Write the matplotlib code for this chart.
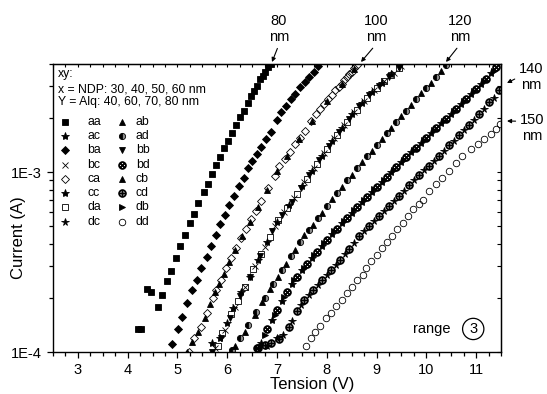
import numpy as np
import matplotlib
matplotlib.use('Agg')
import matplotlib.pyplot as plt
from matplotlib.ticker import MultipleLocator, LogLocator, FixedLocator, NullFormatter

plt.rcParams['font.family'] = ['Liberation Sans', 'DejaVu Sans']
plt.rcParams['mathtext.fontset'] = 'dejavusans'

# Tension (V) et courant (mA) pour chaque echantillon
v_aa = [4.20, 4.27, 4.39, 4.47, 4.60, 4.68, 4.79, 4.87, 4.97, 5.06, 5.15, 5.25, 5.34, 5.42, 5.53, 5.61, 5.69,
        5.78, 5.86, 5.94, 6.02, 6.10, 6.18, 6.26, 6.34, 6.41, 6.48, 6.54, 6.60, 6.66, 6.71, 6.76, 6.82, 6.87]
i_aa = [0.135, 0.135, 0.224, 0.216, 0.177, 0.207, 0.247, 0.284, 0.334, 0.387, 0.449, 0.519, 0.582, 0.671, 0.776,
        0.865, 0.975, 1.10, 1.22, 1.36, 1.50, 1.65, 1.84, 2.02, 2.20, 2.42, 2.67, 2.82, 3.03, 3.28, 3.45, 3.60,
        3.85, 4.00]

v_ba = [4.89, 5.01, 5.10, 5.20, 5.29, 5.39, 5.48, 5.59, 5.67, 5.78, 5.86, 5.96, 6.04, 6.14, 6.23, 6.33, 6.41,
        6.50, 6.59, 6.68, 6.77, 6.87, 6.99, 7.09, 7.19, 7.29, 7.37, 7.46, 7.56, 7.65, 7.74, 7.83]
i_ba = [0.111, 0.134, 0.157, 0.187, 0.220, 0.252, 0.294, 0.338, 0.391, 0.447, 0.513, 0.577, 0.655, 0.738, 0.838,
        0.933, 1.05, 1.16, 1.26, 1.38, 1.53, 1.68, 1.94, 2.15, 2.34, 2.56, 2.74, 2.97, 3.17, 3.38, 3.61, 3.89]

v_ab = [5.19, 5.30, 5.42, 5.55, 5.66, 5.76, 5.84, 5.94, 6.04, 6.16, 6.30, 6.45, 6.62, 6.80, 7.00, 7.20, 7.45,
        7.70, 8.00, 8.30, 8.55]
i_ab = [0.100, 0.113, 0.130, 0.155, 0.185, 0.215, 0.240, 0.270, 0.315, 0.370, 0.440, 0.530, 0.640, 0.800, 1.02,
        1.23, 1.54, 1.93, 2.50, 3.10, 3.75]

v_ca = [5.23, 5.34, 5.47, 5.59, 5.71, 5.78, 5.88, 5.98, 6.08, 6.18, 6.28, 6.38, 6.48, 6.58, 6.68, 6.82, 6.95,
        7.05, 7.16, 7.26, 7.36, 7.46, 7.56, 7.69, 7.78, 7.86, 7.95, 8.03, 8.10, 8.17, 8.24, 8.30, 8.35, 8.40,
        8.45, 8.50, 8.55, 8.60]
i_ca = [0.100, 0.119, 0.138, 0.164, 0.200, 0.222, 0.252, 0.293, 0.334, 0.380, 0.432, 0.485, 0.546, 0.610, 0.690,
        0.820, 0.950, 1.08, 1.18, 1.29, 1.43, 1.56, 1.70, 1.92, 2.10, 2.25, 2.40, 2.56, 2.70, 2.85, 2.98, 3.10,
        3.24, 3.38, 3.50, 3.60, 3.78, 3.93]

v_da = [5.81, 5.90, 6.08, 6.22, 6.36, 6.52, 6.68, 6.85, 7.02, 7.20, 7.40, 7.60, 7.80, 8.00, 8.20, 8.40, 8.60,
        8.80, 9.00, 9.15, 9.30, 9.45]
i_da = [0.108, 0.128, 0.162, 0.193, 0.230, 0.288, 0.350, 0.435, 0.540, 0.630, 0.760, 0.920, 1.11, 1.34, 1.61,
        1.90, 2.22, 2.59, 2.95, 3.20, 3.47, 3.78]

v_bc = [5.75, 5.95, 6.15, 6.35, 6.55, 6.75, 6.95, 7.15, 7.35, 7.55, 7.75, 7.95, 8.15, 8.35, 8.55, 8.75, 8.95,
        9.15, 9.35, 9.50]
i_bc = [0.105, 0.132, 0.178, 0.230, 0.300, 0.385, 0.500, 0.600, 0.720, 0.880, 1.06, 1.28, 1.55, 1.82, 2.16,
        2.50, 2.87, 3.20, 3.58, 3.90]

v_ac = [5.69, 5.85, 6.00, 6.12, 6.28, 6.45, 6.62, 6.80, 7.00, 7.25, 7.50, 7.70, 7.90, 8.10, 8.30, 8.50, 8.70,
        8.90, 9.10, 9.30]
i_ac = [0.112, 0.120, 0.145, 0.175, 0.215, 0.262, 0.325, 0.410, 0.530, 0.660, 0.840, 1.01, 1.23, 1.49, 1.77,
        2.10, 2.42, 2.80, 3.15, 3.50]

v_bb = [5.69, 5.88, 6.05, 6.25, 6.45, 6.65, 6.90, 7.10, 7.30, 7.48, 7.65, 7.85, 8.05, 8.25, 8.45, 8.65, 8.85,
        9.05, 9.25, 9.45]
i_bb = [0.100, 0.120, 0.155, 0.205, 0.262, 0.340, 0.470, 0.580, 0.685, 0.820, 0.970, 1.17, 1.40, 1.68, 1.97,
        2.33, 2.70, 3.02, 3.38, 3.78]

v_ad = [6.10, 6.25, 6.42, 6.58, 6.75, 6.92, 7.10, 7.28, 7.46, 7.64, 7.82, 8.00, 8.20, 8.40, 8.60, 8.80, 9.00,
        9.20, 9.40, 9.60, 9.80, 10.00, 10.20, 10.40]
i_ad = [0.102, 0.120, 0.142, 0.167, 0.200, 0.238, 0.285, 0.340, 0.408, 0.480, 0.555, 0.650, 0.770, 0.900, 1.05,
        1.23, 1.42, 1.65, 1.91, 2.20, 2.55, 2.95, 3.38, 3.95]

v_cb = [6.15, 6.35, 6.55, 6.70, 6.85, 7.02, 7.18, 7.36, 7.55, 7.72, 7.90, 8.10, 8.30, 8.50, 8.70, 8.90, 9.10,
        9.30, 9.50, 9.70, 9.90, 10.10, 10.30]
i_cb = [0.108, 0.130, 0.160, 0.190, 0.225, 0.262, 0.310, 0.370, 0.445, 0.510, 0.595, 0.710, 0.830, 0.970, 1.14,
        1.32, 1.53, 1.77, 2.05, 2.37, 2.75, 3.15, 3.65]

v_bd = [6.60, 6.80, 7.00, 7.20, 7.40, 7.60, 7.80, 8.00, 8.20, 8.40, 8.60, 8.80, 9.00, 9.20, 9.40, 9.60, 9.80,
        10.00, 10.20, 10.40, 10.60, 10.80, 11.00, 11.20, 11.40]
i_bd = [0.105, 0.135, 0.172, 0.215, 0.262, 0.308, 0.360, 0.420, 0.485, 0.555, 0.640, 0.730, 0.830, 0.940, 1.07,
        1.21, 1.37, 1.56, 1.76, 1.99, 2.25, 2.55, 2.90, 3.30, 3.85]

v_cc = [6.68, 6.90, 7.10, 7.30, 7.50, 7.70, 7.90, 8.10, 8.30, 8.50, 8.70, 8.90, 9.10, 9.30, 9.50, 9.70, 9.90,
        10.10, 10.30, 10.50, 10.70, 10.90, 11.10, 11.30]
i_cc = [0.112, 0.150, 0.192, 0.240, 0.285, 0.332, 0.390, 0.452, 0.520, 0.595, 0.685, 0.780, 0.885, 1.00, 1.14,
        1.29, 1.46, 1.66, 1.87, 2.12, 2.40, 2.72, 3.10, 3.55]

v_db = [6.75, 6.95, 7.15, 7.35, 7.55, 7.75, 7.95, 8.15, 8.35, 8.55, 8.75, 8.95, 9.15, 9.35, 9.55, 9.75, 9.95,
        10.15, 10.35, 10.55, 10.75, 10.95, 11.15, 11.35]
i_db = [0.125, 0.160, 0.202, 0.252, 0.295, 0.345, 0.405, 0.470, 0.535, 0.615, 0.705, 0.805, 0.910, 1.03, 1.17,
        1.33, 1.51, 1.71, 1.93, 2.19, 2.48, 2.82, 3.20, 3.68]

v_cd = [6.62, 6.75, 6.88, 7.05, 7.24, 7.40, 7.55, 7.72, 7.90, 8.08, 8.26, 8.45, 8.65, 8.85, 9.05, 9.25, 9.45,
        9.65, 9.85, 10.05, 10.25, 10.45, 10.65, 10.85, 11.05, 11.25, 11.45]
i_cd = [0.105, 0.110, 0.112, 0.118, 0.138, 0.168, 0.195, 0.220, 0.250, 0.285, 0.325, 0.375, 0.440, 0.500, 0.570,
        0.650, 0.740, 0.845, 0.960, 1.09, 1.23, 1.41, 1.61, 1.84, 2.10, 2.45, 2.88]

v_dc = [6.80, 7.00, 7.12, 7.30, 7.48, 7.65, 7.82, 8.00, 8.18, 8.36, 8.55, 8.75, 8.95, 9.15, 9.35, 9.55, 9.75,
        9.95, 10.15, 10.35, 10.55, 10.75, 10.95, 11.15, 11.35]
i_dc = [0.108, 0.120, 0.125, 0.148, 0.182, 0.208, 0.235, 0.268, 0.305, 0.350, 0.405, 0.470, 0.535, 0.610, 0.695,
        0.790, 0.900, 1.03, 1.16, 1.32, 1.50, 1.72, 1.96, 2.24, 2.60]

v_dd = [7.59, 7.68, 7.77, 7.87, 7.98, 8.08, 8.19, 8.30, 8.40, 8.51, 8.61, 8.72, 8.79, 8.89, 9.00, 9.11, 9.21,
        9.32, 9.42, 9.53, 9.63, 9.74, 9.85, 9.93, 10.05, 10.19, 10.32, 10.45, 10.59, 10.72, 10.89, 11.03, 11.16,
        11.30, 11.40, 11.47]
i_dd = [0.108, 0.119, 0.129, 0.140, 0.154, 0.164, 0.181, 0.195, 0.214, 0.230, 0.252, 0.269, 0.294, 0.320, 0.348,
        0.380, 0.408, 0.441, 0.481, 0.524, 0.571, 0.621, 0.663, 0.700, 0.787, 0.857, 0.933, 1.02, 1.13, 1.23,
        1.34, 1.43, 1.53, 1.63, 1.74, 1.85]

data = {'aa': (v_aa, i_aa), 'ab': (v_ab, i_ab), 'ac': (v_ac, i_ac), 'ad': (v_ad, i_ad),
        'ba': (v_ba, i_ba), 'bb': (v_bb, i_bb), 'bc': (v_bc, i_bc), 'bd': (v_bd, i_bd),
        'ca': (v_ca, i_ca), 'cb': (v_cb, i_cb), 'cc': (v_cc, i_cc), 'cd': (v_cd, i_cd),
        'da': (v_da, i_da), 'db': (v_db, i_db), 'dc': (v_dc, i_dc), 'dd': (v_dd, i_dd)}

# styles des marqueurs
style = {
    'aa': dict(marker='s', ms=4.7, mfc='k'),
    'ab': dict(marker='^', ms=4.3, mfc='k'),
    'ac': dict(marker='*', ms=6, mfc='k'),
    'ad': dict(marker='o', ms=4.5, mfc='k', fillstyle='left', markerfacecoloralt='0.55'),
    'ba': dict(marker='D', ms=3.7, mfc='k'),
    'bb': dict(marker='v', ms=4.3, mfc='k'),
    'bc': dict(marker='x', ms=4.5),
    'bd': dict(marker='$\\otimes$', ms=5.5),
    'ca': dict(marker='D', ms=3.7, mfc='none'),
    'cb': dict(marker='^', ms=4.3, mfc='k'),
    'cc': dict(marker='*', ms=6, mfc='k'),
    'cd': dict(marker='$\\oplus$', ms=5.5),
    'da': dict(marker='s', ms=4.5, mfc='none'),
    'db': dict(marker='>', ms=4.3, mfc='k'),
    'dc': dict(marker='*', ms=5.5, mfc='k'),
    'dd': dict(marker='o', ms=4.7, mfc='none'),
}

fig = plt.figure(figsize=(5.47, 3.94), dpi=100)
ax = fig.add_axes([53 / 547, 42 / 394, 448 / 547, 288 / 394])

for name, (v, i) in data.items():
    ax.plot(v, np.array(i) * 1e-3, ls='none', color='k', mec='k', mew=0.6, **style[name])

ax.set_yscale('log')
ax.set_xlim(2.5, 11.5)
ax.set_ylim(1e-4, 4e-3)

ax.xaxis.set_major_locator(MultipleLocator(1))
ax.xaxis.set_minor_locator(MultipleLocator(0.25))
ax.yaxis.set_major_locator(FixedLocator([1e-4, 1e-3]))
ax.set_yticklabels(['1E-4', '1E-3'])
ax.yaxis.set_minor_locator(LogLocator(base=10, subs=np.arange(2, 10)))
ax.yaxis.set_minor_formatter(NullFormatter())
ax.tick_params(which='both', direction='out', width=0.9, labelsize=10.5)
ax.tick_params(which='major', length=4.5)
ax.tick_params(which='minor', length=3)
for s in ax.spines.values():
    s.set_linewidth(1.0)

# graduations internes en haut et a droite
top = ax.secondary_xaxis('top')
top.xaxis.set_major_locator(MultipleLocator(1))
top.xaxis.set_minor_locator(MultipleLocator(0.25))
top.tick_params(which='both', direction='in', labeltop=False, width=0.8, length=2.5)
right = ax.secondary_yaxis('right')
right.yaxis.set_major_locator(FixedLocator([1e-4, 1e-3]))
right.yaxis.set_minor_locator(LogLocator(base=10, subs=np.arange(2, 10)))
right.tick_params(which='both', direction='in', labelright=False, width=0.8, length=3)

fig.text(19 / 547, 1 - 238 / 394, 'Current (A)', rotation=90, ha='center', va='center', fontsize=12)
fig.text(312 / 547, 1 - 385 / 394, 'Tension (V)', ha='center', va='center', fontsize=12)

# legende
ax.text(0.011, 0.965, 'xy:', transform=ax.transAxes, va='center', fontsize=8.8)
ax.text(0.011, 0.913, 'x = NDP: 30, 40, 50, 60 nm', transform=ax.transAxes, va='center', fontsize=8.8)
ax.text(0.011, 0.868, 'Y = Alq: 40, 60, 70, 80 nm', transform=ax.transAxes, va='center', fontsize=8.8)
rows = [('aa', 'ab'), ('ac', 'ad'), ('ba', 'bb'), ('bc', 'bd'),
        ('ca', 'cb'), ('cc', 'cd'), ('da', 'db'), ('dc', 'dd')]
for r, (n1, n2) in enumerate(rows):
    y = 0.800 - r * 0.0497
    ax.plot([0.027], [y], transform=ax.transAxes, clip_on=False, ls='none', color='k', mec='k', mew=0.6,
            **style[n1])
    ax.text(0.077, y, n1, transform=ax.transAxes, va='center', fontsize=8.8)
    ax.plot([0.153], [y], transform=ax.transAxes, clip_on=False, ls='none', color='k', mec='k', mew=0.6,
            **style[n2])
    ax.text(0.185, y, n2, transform=ax.transAxes, va='center', fontsize=8.8)

# epaisseurs totales
arrow = dict(arrowstyle='-|>', lw=0.8, color='k', mutation_scale=6, shrinkA=1, shrinkB=0)
for lab, tx, tip in [('80', 279, 272), ('100', 376, 361), ('120', 460, 446)]:
    ax.annotate(lab + '\nnm', xy=(tip, 394 - 62), xycoords='figure pixels',
                xytext=(tx, 394 - 29), textcoords='figure pixels', ha='center', va='center',
                fontsize=10.5, linespacing=1.25, annotation_clip=False,
                arrowprops=dict(arrow, relpos=(0.5, 0)))
ax.annotate('140\nnm', xy=(507, 394 - 83), xycoords='figure pixels',
            xytext=(531, 394 - 77), textcoords='figure pixels', ha='center', va='center',
            fontsize=10.5, linespacing=1.25, annotation_clip=False,
            arrowprops=dict(arrow, relpos=(0, 0.5)))
ax.annotate('150\nnm', xy=(507, 394 - 121), xycoords='figure pixels',
            xytext=(532, 394 - 128), textcoords='figure pixels', ha='center', va='center',
            fontsize=10.5, linespacing=1.25, annotation_clip=False,
            arrowprops=dict(arrow, relpos=(0, 0.72)))

ax.text(0.845, 0.080, 'range', transform=ax.transAxes, ha='center', va='center', fontsize=10.5)
ax.text(0.938, 0.080, '3', transform=ax.transAxes, ha='center', va='center', fontsize=10.5,
        bbox=dict(boxstyle='circle,pad=0.25', fc='none', ec='k', lw=0.9))

fig.savefig('out.png', dpi=100)
